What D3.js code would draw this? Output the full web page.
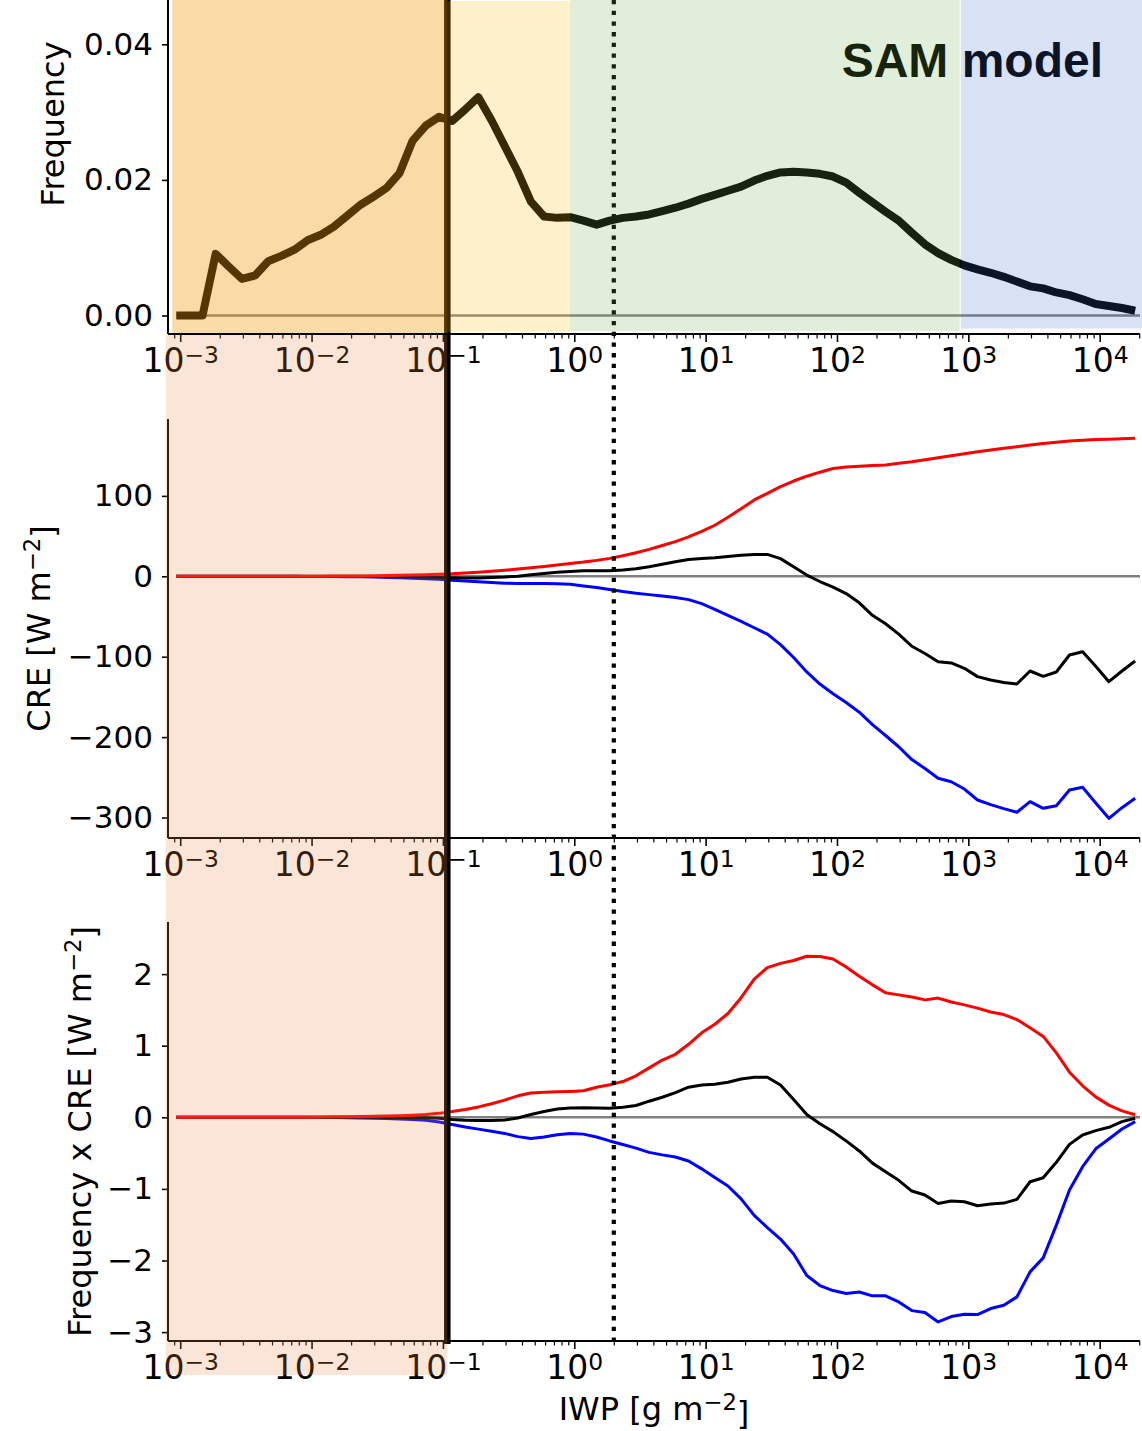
<!DOCTYPE html>
<html>
<head>
<meta charset="utf-8">
<script src="https://cdn.jsdelivr.net/npm/d3@7"></script>
<style>
  body { margin: 0; background: #fff; }
  svg { display: block; font-family: "DejaVu Sans", sans-serif; }
</style>
</head>
<body>
<div id="chart"></div>
<script>
// log10 of IWP bin centres [g m-2]
const logIWP = [-3.03, -2.93, -2.83, -2.73, -2.63, -2.53, -2.43, -2.33, -2.23, -2.13,
  -2.03, -1.93, -1.83, -1.73, -1.63, -1.53, -1.43, -1.33, -1.23, -1.13,
  -1.03, -0.93, -0.83, -0.73, -0.63, -0.53, -0.43, -0.33, -0.23, -0.13,
  -0.03, 0.07, 0.17, 0.27, 0.37, 0.47, 0.57, 0.67, 0.77, 0.87,
  0.97, 1.07, 1.17, 1.27, 1.37, 1.47, 1.57, 1.67, 1.77, 1.87,
  1.97, 2.07, 2.17, 2.27, 2.37, 2.47, 2.57, 2.67, 2.77, 2.87,
  2.97, 3.07, 3.17, 3.27, 3.37, 3.47, 3.57, 3.67, 3.77, 3.87,
  3.97, 4.07, 4.17, 4.27];

const frequency = [0, 0, 0, 0.0091, 0.0072, 0.0054, 0.0059, 0.0080, 0.0088, 0.0097,
  0.0111, 0.0119, 0.0131, 0.0147, 0.0163, 0.0175, 0.0188, 0.0210, 0.0258, 0.0280,
  0.0293, 0.0287, 0.0304, 0.0322, 0.0288, 0.0250, 0.0212, 0.0168, 0.0146, 0.0144,
  0.0145, 0.0140, 0.0134, 0.0140, 0.0144, 0.0146, 0.0149, 0.0154, 0.0159, 0.0165,
  0.0172, 0.0178, 0.0184, 0.0190, 0.0199, 0.0206, 0.0211, 0.0212, 0.0211, 0.0209,
  0.0205, 0.0196, 0.0181, 0.0167, 0.0153, 0.0140, 0.0122, 0.0105, 0.0092, 0.0082,
  0.0074, 0.0068, 0.0063, 0.0057, 0.0050, 0.0043, 0.0040, 0.0034, 0.0030, 0.0024,
  0.0017, 0.0014, 0.0011, 0.0007];

// cloud radiative effect [W m-2]
const creLW = [0, 0, 0, 0, 0, 0, 0, 0, 0.1, 0.1,
  0.2, 0.2, 0.3, 0.4, 0.5, 0.7, 1.0, 1.3, 1.6, 2.0,
  2.6, 3.2, 4.0, 5.0, 6.2, 7.6, 9.0, 10.6, 12.3, 14.0,
  16.0, 17.7, 19.8, 22.3, 25.5, 29.2, 33.5, 38.3, 43.2, 49.0,
  56.0, 63.5, 73.5, 84.0, 95.0, 103.2, 111.5, 118.5, 124.5, 129.5,
  134.0, 136.0, 137.0, 137.8, 138.5, 140.5, 142.5, 145.0, 147.5, 150.0,
  152.5, 155.0, 157.2, 159.3, 161.2, 163.2, 165.2, 166.8, 168.2, 169.3,
  170.0, 170.6, 171.1, 171.6];

const creNet = [0, 0, 0, 0, 0, 0, 0, 0, 0, 0,
  0, 0, 0, 0, 0, -0.2, -0.3, -0.5, -0.7, -1.0,
  -1.5, -1.8, -2.0, -2.0, -1.6, -1.0, 0.2, 2.0, 3.5, 5.0,
  6.0, 6.8, 7.0, 7.0, 7.8, 9.5, 12.0, 15.0, 18.0, 21.0,
  22.2, 23.0, 24.5, 26.3, 27.2, 27.2, 22.0, 11.9, 1.5, -6.5,
  -13.5, -21.5, -33.0, -48.5, -59.0, -72.0, -87.0, -96.0, -106.2, -107.8,
  -114.4, -124.8, -129.0, -132.0, -134.0, -117.8, -124.4, -119.0, -97.9, -93.8,
  -112.0, -131.1, -117.8, -105.3];

const creSW = [0, 0, 0, 0, 0, 0, 0, 0, 0, 0,
  -0.1, -0.2, -0.3, -0.5, -0.7, -1.0, -1.4, -1.8, -2.3, -2.9,
  -3.8, -4.8, -5.8, -6.8, -7.8, -8.5, -8.9, -9.0, -9.1, -9.3,
  -10.0, -12.0, -14.0, -16.5, -19.0, -21.0, -22.8, -24.5, -26.5, -29.0,
  -34.0, -41.0, -48.5, -56.0, -64.0, -72.0, -85.0, -101.0, -119.0, -134.0,
  -146.0, -157.0, -169.0, -184.5, -198.0, -212.0, -228.0, -239.0, -251.2, -255.5,
  -264.6, -278.2, -284.0, -289.0, -293.5, -280.3, -288.6, -285.3, -265.8, -262.4,
  -282.0, -301.0, -287.8, -276.1];

// frequency x CRE [W m-2]
const weightedLW = [0, 0, 0, 0, 0, 0, 0, 0, 0, 0,
  0.002, 0.004, 0.006, 0.008, 0.010, 0.013, 0.017, 0.022, 0.030, 0.040,
  0.055, 0.080, 0.110, 0.145, 0.190, 0.240, 0.300, 0.340, 0.350, 0.358,
  0.362, 0.370, 0.420, 0.455, 0.500, 0.580, 0.690, 0.800, 0.880, 1.020,
  1.180, 1.300, 1.450, 1.670, 1.930, 2.090, 2.150, 2.190, 2.250, 2.245,
  2.210, 2.100, 1.970, 1.850, 1.740, 1.710, 1.680, 1.640, 1.665, 1.610,
  1.570, 1.525, 1.470, 1.435, 1.365, 1.250, 1.130, 0.900, 0.630, 0.440,
  0.285, 0.170, 0.090, 0.035];

const weightedNet = [0, 0, 0, 0, 0, 0, 0, 0, 0, 0,
  0, 0, 0, 0, 0, -0.001, -0.002, -0.003, -0.005, -0.008,
  -0.012, -0.030, -0.042, -0.045, -0.045, -0.038, -0.010, 0.040, 0.080, 0.115,
  0.130, 0.135, 0.130, 0.128, 0.140, 0.165, 0.225, 0.280, 0.345, 0.420,
  0.452, 0.463, 0.490, 0.536, 0.559, 0.560, 0.450, 0.250, 0.040, -0.090,
  -0.200, -0.330, -0.470, -0.640, -0.760, -0.880, -1.030, -1.086, -1.203, -1.170,
  -1.180, -1.235, -1.212, -1.198, -1.147, -0.900, -0.844, -0.629, -0.378, -0.247,
  -0.186, -0.140, -0.061, -0.014];

const weightedSW = [0, 0, 0, 0, 0, 0, 0, 0, 0, 0,
  -0.001, -0.002, -0.004, -0.006, -0.009, -0.013, -0.018, -0.025, -0.032, -0.040,
  -0.065, -0.100, -0.135, -0.165, -0.195, -0.225, -0.270, -0.295, -0.275, -0.245,
  -0.225, -0.235, -0.275, -0.330, -0.380, -0.430, -0.490, -0.525, -0.555, -0.610,
  -0.720, -0.840, -0.960, -1.140, -1.370, -1.540, -1.700, -1.910, -2.210, -2.350,
  -2.420, -2.460, -2.440, -2.494, -2.494, -2.578, -2.700, -2.727, -2.858, -2.783,
  -2.751, -2.755, -2.671, -2.625, -2.508, -2.159, -1.963, -1.506, -1.016, -0.690,
  -0.440, -0.303, -0.163, -0.061];

// ticks
const xMajorTicks = [1e-3, 1e-2, 1e-1, 1e0, 1e1, 1e2, 1e3, 1e4];
const xTickExponents = ['\u22123', '\u22122', '\u22121', '0', '1', '2', '3', '4'];
const freqTicks = [0, 0.02, 0.04];
const creTicks = [100, 0, -100, -200, -300];
const weightedTicks = [2, 1, 0, -1, -2, -3];

// IWP regime boundaries and markers [g m-2]
const regimeEdges = [8.7e-4, 0.108, 0.93, 860, 2.1e4];
const thresholdIWP = 0.108;
const dottedIWP = 2;

const width = 1142;
const height = 1431;
const iwp = logIWP.map(v => Math.pow(10, v));

const svg = d3.select('#chart').append('svg')
  .attr('width', width)
  .attr('height', height)
  .attr('viewBox', `0 0 ${width} ${height}`);

const x = d3.scaleLog()
  .domain([Math.pow(10, -3.093), Math.pow(10, 4.307)])
  .range([168, 1140]);

const panels = [
  { top: 0, bottom: 334, domain: [0, 0.04], range: [315.5, 44.3], ticks: freqTicks, fmt: d3.format('.2f') },
  { top: 419, bottom: 838, domain: [-300, 100], range: [817.5, 495.9], ticks: creTicks, fmt: d3.format('d') },
  { top: 922, bottom: 1341, domain: [-3, 2], range: [1332.1, 974.1], ticks: weightedTicks, fmt: d3.format('d') },
];
panels.forEach(p => { p.y = d3.scaleLinear().domain(p.domain).range(p.range); });

const [pTop, pMid, pBot] = panels;
const x0 = x.range()[0];
const x1 = x.range()[1];

// zero lines
panels.forEach(p => {
  svg.append('line')
    .attr('x1', x(iwp[0])).attr('x2', x1)
    .attr('y1', p.y(0)).attr('y2', p.y(0))
    .attr('stroke', '#808080').attr('stroke-width', 2.5);
});

// top panel curve
svg.append('path')
  .datum(frequency)
  .attr('fill', 'none')
  .attr('stroke', '#000')
  .attr('stroke-width', 8)
  .attr('stroke-linejoin', 'round')
  .attr('d', d3.line().x((d, i) => x(iwp[i])).y(d => pTop.y(d)));

// CRE panels
const series = [
  { panel: pMid, values: creSW, color: '#0000ff' },
  { panel: pMid, values: creNet, color: '#000000' },
  { panel: pMid, values: creLW, color: '#ff0000' },
  { panel: pBot, values: weightedSW, color: '#0000ff' },
  { panel: pBot, values: weightedNet, color: '#000000' },
  { panel: pBot, values: weightedLW, color: '#ff0000' },
];
series.forEach(s => {
  svg.append('path')
    .datum(s.values)
    .attr('fill', 'none')
    .attr('stroke', s.color)
    .attr('stroke-width', 3)
    .attr('stroke-linejoin', 'round')
    .attr('d', d3.line().x((d, i) => x(iwp[i])).y(d => s.panel.y(d)));
});

// axes
function yAxis(p) {
  const g = svg.append('g').attr('transform', `translate(${x0},0)`);
  g.call(d3.axisLeft(p.y).tickValues(p.ticks).tickSize(6).tickSizeOuter(0).tickPadding(9).tickFormat(p.fmt));
  g.select('.domain').remove();
  g.attr('font-size', 31).attr('font-family', null);
  g.selectAll('line').attr('stroke-width', 1.6);
  g.append('line').attr('x1', 0).attr('x2', 0).attr('y1', p.top).attr('y2', p.bottom)
    .attr('stroke', '#000').attr('stroke-width', 2);
}

function xAxis(p) {
  const g = svg.append('g').attr('transform', `translate(0,${p.bottom})`);
  const minor = g.append('g')
    .call(d3.axisBottom(x).tickValues(x.ticks().filter(t => !xMajorTicks.includes(t)))
      .tickSize(4.5).tickSizeOuter(0).tickFormat(''));
  minor.select('.domain').remove();
  minor.selectAll('line').attr('stroke-width', 1.2);
  const major = g.append('g')
    .call(d3.axisBottom(x).tickValues(xMajorTicks).tickSize(8).tickSizeOuter(0).tickPadding(7).tickFormat(''));
  major.select('.domain').remove();
  major.selectAll('line').attr('stroke-width', 1.6);
  major.attr('font-size', 33).attr('font-family', null);
  major.selectAll('.tick text').each(function(d, i) {
    const t = d3.select(this);
    t.append('tspan').text('10');
    t.append('tspan').attr('dy', '-0.42em').attr('font-size', '71%').text(xTickExponents[i]);
  });
  g.append('line').attr('x1', x0).attr('x2', x1).attr('y1', 0).attr('y2', 0)
    .attr('stroke', '#000').attr('stroke-width', 2);
}
panels.forEach(p => { yAxis(p); xAxis(p); });

// axis labels
function yLabel(xPos, yPos, main, sup, tail) {
  const t = svg.append('text')
    .attr('transform', `translate(${xPos},${yPos}) rotate(-90)`)
    .attr('text-anchor', 'middle')
    .attr('font-size', 32)
    .attr('fill', '#000');
  t.append('tspan').text(main);
  if (sup) {
    t.append('tspan').attr('dy', '-0.42em').attr('font-size', '71%').text(sup);
    t.append('tspan').attr('dy', '0.42em').text(tail);
  }
}
yLabel(64, 124, 'Frequency');
yLabel(50, (pMid.top + pMid.bottom) / 2, 'CRE [W m', '\u22122', ']');
yLabel(91, (pBot.top + pBot.bottom) / 2, 'Frequency x CRE [W m', '\u22122', ']');

const xl = svg.append('text')
  .attr('x', (x0 + x1) / 2).attr('y', 1420)
  .attr('text-anchor', 'middle').attr('font-size', 32).attr('fill', '#000');
xl.append('tspan').text('IWP [g m');
xl.append('tspan').attr('dy', '-0.42em').attr('font-size', '71%').text('\u22122');
xl.append('tspan').attr('dy', '0.42em').text(']');

// vertical markers
svg.append('line')
  .attr('x1', x(thresholdIWP)).attr('x2', x(thresholdIWP))
  .attr('y1', 0).attr('y2', 1344)
  .attr('stroke', '#000').attr('stroke-width', 6.5);
svg.append('line')
  .attr('x1', x(dottedIWP)).attr('x2', x(dottedIWP))
  .attr('y1', 0).attr('y2', 1340)
  .attr('stroke', '#000').attr('stroke-width', 4.2)
  .attr('stroke-dasharray', '4.3,6.4');

// title
svg.append('text')
  .attr('x', 1103).attr('y', 77)
  .attr('text-anchor', 'end')
  .style('font-family', '"Liberation Sans", Arial, sans-serif')
  .attr('font-weight', 'bold')
  .attr('font-size', 48)
  .attr('fill', '#000')
  .text('SAM model');

// translucent regime bands laid over the top panel
const bands = [
  { from: regimeEdges[0], to: regimeEdges[1], top: 0, bottom: 333, color: 'rgb(238,154,8)', opacity: 0.357, gap: 0 },
  { from: regimeEdges[1], to: regimeEdges[2], top: 1, bottom: 331.7, color: 'rgb(250,191,23)', opacity: 0.22, gap: 0 },
  { from: regimeEdges[2], to: regimeEdges[3], top: 0, bottom: 331, color: 'rgb(108,172,74)', opacity: 0.204, gap: 0 },
  { from: regimeEdges[3], to: regimeEdges[4], top: 0, bottom: 328.5, color: 'rgb(61,107,204)', opacity: 0.196, gap: 1 },
];
svg.append('g').selectAll('rect')
  .data(bands)
  .join('rect')
  .attr('x', d => x(d.from) + d.gap)
  .attr('width', d => Math.min(x(d.to), width) - x(d.from) - d.gap)
  .attr('y', d => d.top)
  .attr('height', d => d.bottom - d.top)
  .attr('fill', d => d.color)
  .attr('fill-opacity', d => d.opacity);

// shading of the thin-ice region in the lower panels
svg.append('rect')
  .attr('x', 165.7)
  .attr('width', x(thresholdIWP) - 165.7)
  .attr('y', 335)
  .attr('height', 1375 - 335)
  .attr('fill', 'rgb(232,137,69)')
  .attr('fill-opacity', 0.22);
</script>
</body>
</html>
